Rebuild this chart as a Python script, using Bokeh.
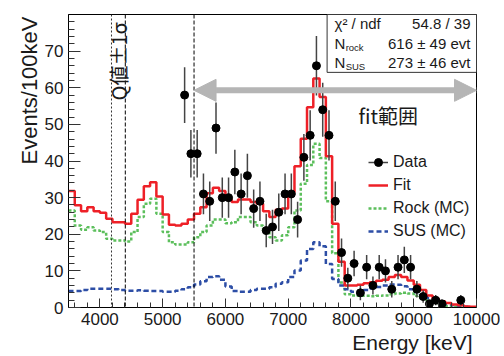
import math
from bokeh.plotting import figure
from bokeh.models import (FixedTicker, Range1d, Span, Arrow, NormalHead, Label, Title,
                          BoxAnnotation, Legend, LegendItem, ColumnDataSource)
from bokeh.embed import file_html
from bokeh.resources import INLINE
from bokeh.core.properties import value

# ---------------- data ----------------
bin_width = 100
x_start, x_stop = 3500, 10000
bin_left = list(range(x_start, x_stop, bin_width))

fit = [31.8, 27.9, 26.3, 27.4, 26.3, 25.9, 24.2, 23.3, 23.3, 22.9,
       25.6, 29.4, 33.1, 34.2, 30.3, 25.4, 22.6, 22.4, 22.9, 24.0,
       25.6, 27.4, 31.2, 32.7, 31.8, 29.5, 28.8, 29.5, 29.5, 28.8,
       28.3, 26.3, 24.7, 26.7, 27.0, 31.5, 38.6, 46.1, 54.7, 62.5,
       57.5, 41.3, 22.9, 12.5, 6.0, 6.0, 6.2, 6.6, 6.9, 7.3,
       7.6, 8.3, 8.9, 8.3, 7.4, 6.2, 4.8, 3.3, 2.4, 1.7,
       1.2, 0.8, 0.6, 0.3, 0.2]

rock = [26.5, 22.4, 21.2, 21.9, 21.0, 20.6, 18.8, 18.3, 18.3, 18.0,
        20.6, 24.7, 28.3, 29.7, 25.6, 20.6, 17.8, 17.2, 17.2, 17.8,
        19.2, 20.6, 22.4, 24.0, 24.0, 23.0, 23.3, 24.7, 24.7, 23.3,
        22.4, 21.0, 19.2, 18.3, 19.7, 21.9, 26.5, 33.8, 38.9, 44.7,
        40.8, 29.0, 14.8, 6.8, 3.6, 3.3, 3.2, 3.2, 3.1, 3.2,
        3.3, 3.6, 3.8, 4.0, 3.8, 3.2, 2.8, 2.0, 1.4, 0.8,
        0.4, 0.2, 0.1, 0.1, 0.0]

sus = [4.5, 4.5, 4.8, 5.1, 5.1, 5.1, 5.1, 5.0, 4.8, 4.6,
       4.6, 4.7, 4.6, 4.5, 4.5, 4.3, 4.3, 4.6, 5.0, 5.5,
       6.3, 7.2, 8.3, 8.5, 7.6, 5.7, 4.5, 4.3, 4.3, 4.8,
       5.1, 5.1, 5.5, 6.5, 6.9, 8.3, 10.1, 12.8, 16.0, 17.8,
       16.7, 11.9, 7.8, 6.0, 5.0, 4.3, 4.3, 4.8, 5.2, 5.6,
       6.0, 6.3, 6.2, 5.8, 5.0, 4.2, 3.4, 2.6, 2.0, 1.4,
       0.9, 0.6, 0.4, 0.2, 0.1]

data_e = [5350, 5450, 5550, 5650, 5750, 5850, 5950, 6050, 6150, 6250,
          6350, 6450, 6550, 6650, 6750, 6850, 6950, 7050, 7150, 7250,
          7350, 7450, 7550, 7650, 7750, 7850, 7950, 8050, 8150, 8250,
          8350, 8450, 8550, 8650, 8750, 8850, 8950, 9050, 9150, 9250,
          9350, 9450, 9750]
data_n = [58, 42, 42, 31, 29, 49, 30, 30, 37, 31,
          36, 27, 29, 21, 22, 26, 31, 31, 24, 41,
          47, 66, 54, 47, 29, 15, 8, 12, 4, 11,
          6, 11, 10, 5, 11, 13, 11, 5, 3, 1,
          2, 1, 2]

x_major = [4000, 5000, 6000, 7000, 8000, 9000, 10000]
x_minor = list(range(3600, 10000, 200))
y_major = [0, 10, 20, 30, 40, 50, 60, 70]
y_minor = list(range(0, 80, 2))

q_lines = [4185, 4405]
fit_range = [5500, 10000]

stats_rows = [("χ² / ndf", "", "54.8 / 39"),
              ("N", "rock", "616 ± 49 evt"),
              ("N", "SUS", "273 ± 46 evt")]

FONT = "Liberation Sans"
CJK = "Noto Sans CJK JP"
RED = "#ee2027"
GREEN = "#5cbf5c"
BLUE = "#2d4ea6"
TXT = "#1a1a1a"

# ---------------- figure ----------------
p = figure(width=500, height=355, x_range=Range1d(x_start, x_stop), y_range=Range1d(0, 80),
           output_backend="svg", toolbar_location=None,
           min_border_left=68, min_border_right=24, min_border_top=14, min_border_bottom=48)
p.grid.visible = False
p.outline_line_color = "black"
p.outline_line_width = 1
p.background_fill_color = "white"
p.border_fill_color = "white"

for ax in (p.xaxis[0], p.yaxis[0]):
    ax.axis_line_color = "black"
    ax.major_tick_line_color = "#333333"
    ax.minor_tick_line_color = "#333333"
    ax.major_tick_out = 0
    ax.minor_tick_out = 0
    ax.major_label_text_font = FONT
    ax.major_label_text_font_size = "17px"
    ax.major_label_text_color = TXT

p.xaxis[0].ticker = FixedTicker(ticks=x_major, minor_ticks=x_minor)
p.yaxis[0].ticker = FixedTicker(ticks=y_major, minor_ticks=y_minor)
p.xaxis[0].major_tick_in = 9
p.xaxis[0].minor_tick_in = 5
p.yaxis[0].major_tick_in = 12
p.yaxis[0].minor_tick_in = 6
p.xaxis[0].major_label_standoff = 5
p.yaxis[0].major_label_standoff = 5

# axis titles as side-panel titles (right / top aligned like ROOT)
p.add_layout(Title(text="Energy [keV]", align="right", text_font=FONT, text_font_size="21px",
                   text_font_style="normal", text_color=TXT, standoff=3, offset=4), "below")
p.add_layout(Title(text="Events/100keV", align="right", text_font=FONT, text_font_size="22px",
                   text_font_style="normal", text_color=TXT, standoff=0, offset=2), "left")

# histograms
edges = bin_left + [x_stop]
r_rock = p.step(x=edges, y=rock + [rock[-1]], mode="after", line_color=GREEN,
                line_width=2.5, line_dash="3 2")
r_sus = p.step(x=edges, y=sus + [sus[-1]], mode="after", line_color=BLUE,
               line_width=2.5, line_dash="5 3")
r_fit = p.step(x=edges, y=fit + [fit[-1]], mode="after", line_color=RED, line_width=2.5)

# data with Poisson errors
err = [math.sqrt(n) for n in data_n]
src = ColumnDataSource(dict(x=data_e, y=data_n,
                            lo=[n - e for n, e in zip(data_n, err)],
                            hi=[n + e for n, e in zip(data_n, err)]))
r_err = p.segment(x0="x", y0="lo", x1="x", y1="hi", source=src, line_color="#444444", line_width=1.5)
r_pts = p.scatter(x="x", y="y", source=src, size=8, fill_color="black", line_color="black")

# vertical lines
p.add_layout(Span(location=q_lines[0], dimension="height", line_color="#333333",
                  line_width=1, line_dash="2 2"))
p.add_layout(Span(location=q_lines[1], dimension="height", line_color="black",
                  line_width=1, line_dash="4 2"))
p.add_layout(Span(location=fit_range[0], dimension="height", line_color="black",
                  line_width=1, line_dash="4 2"))

# fit range arrow
GRAY = "#b5b5b5"
p.add_layout(Arrow(x_start=fit_range[0], y_start=59.3, x_end=fit_range[1], y_end=59.3,
                   line_color=GRAY, line_width=6,
                   start=NormalHead(size=22, fill_color=GRAY, line_color=GRAY),
                   end=NormalHead(size=22, fill_color=GRAY, line_color=GRAY)))
p.add_layout(Label(x=8120, y=52.5, text="fit範囲", text_font=CJK, text_font_size="20px",
                   text_align="left", text_baseline="middle", text_color=TXT))
p.add_layout(Label(x=4296, y=67.2, text="Q値±1σ", angle=math.pi / 2, text_font=CJK,
                   text_font_size="20px", text_align="center", text_baseline="middle",
                   text_color=TXT))

# stats box
p.add_layout(BoxAnnotation(left=7620, right=10000, bottom=64.2, top=80, fill_color="white",
                           fill_alpha=1, line_color="#333333", line_width=1, line_alpha=1))
row_y = [77.5, 72.1, 66.9]
sub_y = [0, 70.9, 65.8]
for (main, sub, val), yy, sy in zip(stats_rows, row_y, sub_y):
    p.add_layout(Label(x=7738, y=yy, text=main, text_font=FONT, text_font_size="15px",
                       text_align="left", text_baseline="middle", text_color=TXT))
    if sub:
        p.add_layout(Label(x=7915, y=sy, text=sub, text_font=FONT, text_font_size="9.5px",
                           text_align="left", text_baseline="middle", text_color=TXT))
    p.add_layout(Label(x=9904, y=yy, text=val, text_font=FONT, text_font_size="15px",
                       text_align="right", text_baseline="middle", text_color=TXT))

legend = Legend(items=[LegendItem(label="Data", renderers=[r_err, r_pts]),
                       LegendItem(label="Fit", renderers=[r_fit]),
                       LegendItem(label="Rock (MC)", renderers=[r_rock]),
                       LegendItem(label="SUS (MC)", renderers=[r_sus])],
                location=(300, 66), border_line_color=None, background_fill_alpha=0,
                label_text_font=FONT, label_text_font_size="16px", label_text_color=TXT,
                glyph_width=20, glyph_height=20, label_height=20, spacing=3, padding=0,
                margin=0, label_standoff=5)
p.add_layout(legend)

open("out.html", "w").write(file_html(p, INLINE))
